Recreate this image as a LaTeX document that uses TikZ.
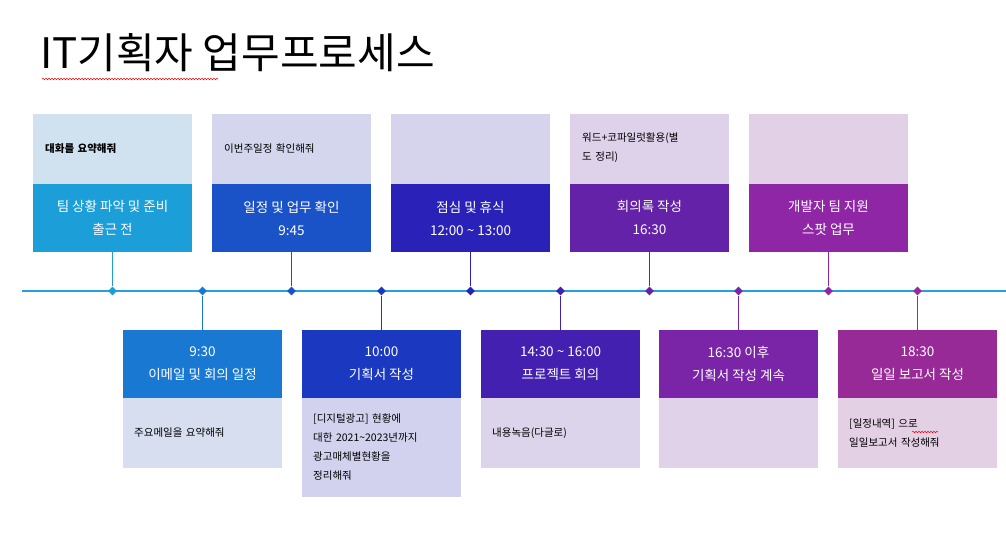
\documentclass[tikz,border=0pt]{standalone}
\usepackage{fontspec}
\setmainfont{Noto Sans CJK KR}
\usetikzlibrary{decorations.pathmorphing,shapes.geometric}
\definecolor{lineblue}{HTML}{28A0DC}
\definecolor{dA}{HTML}{1C9ED8}\definecolor{lA}{HTML}{D0E2F0}
\definecolor{dB}{HTML}{1878D2}\definecolor{lB}{HTML}{D6DEF0}
\definecolor{dC}{HTML}{1A52C8}\definecolor{lC}{HTML}{D4D6EE}
\definecolor{dD}{HTML}{1A38C0}\definecolor{lD}{HTML}{D2D2EE}
\definecolor{dE}{HTML}{2A22B8}\definecolor{lE}{HTML}{D6D4EC}
\definecolor{dF}{HTML}{4420B0}\definecolor{lF}{HTML}{DCD4EA}
\definecolor{dG}{HTML}{6422A8}\definecolor{lG}{HTML}{DED2EA}
\definecolor{dH}{HTML}{7A24A8}\definecolor{lH}{HTML}{E0D2E8}
\definecolor{dI}{HTML}{8E26A6}\definecolor{lI}{HTML}{E2D0E6}
\definecolor{dJ}{HTML}{982A98}\definecolor{lJ}{HTML}{E4D0E4}
\tikzset{
  darkbox/.style={fill=#1,text=white,minimum width=159pt,minimum height=68pt,
    inner sep=0pt,align=center,font=\fontsize{13.5}{23}\selectfont},
  lightbox/.style={fill=#1,minimum width=159pt,inner sep=0pt},
  note/.style={anchor=west,text width=140pt,align=left,inner sep=0pt,
    font=\fontsize{10.5}{19}\selectfont},
  dot/.style={diamond,fill=#1,inner sep=0pt,minimum size=9pt},
  stem/.style={draw=#1,line width=1pt},
  squiggle/.style={draw=red,line width=.5pt,decorate,
    decoration={snake,amplitude=.8pt,segment length=3pt}}
}
\begin{document}
\begin{tikzpicture}[x=1pt,y=-1pt]
  \useasboundingbox[fill=white] (0,0) rectangle (1006,535);
  \node[anchor=base west,inner sep=0pt,font=\fontsize{42}{42}\selectfont] (title) at (40,68) {IT기획자 업무프로세스};
  \draw[squiggle] (42,79) -- (218,79);

  \draw[lineblue,line width=1.5pt] (22,291) -- (1006,291);

  % top row
  \node[lightbox=lA,minimum height=70pt] (tl1) at (112.5,149) {};
  \node[lightbox=lC,minimum height=70pt] (tl2) at (291.5,149) {};
  \node[lightbox=lE,minimum height=70pt] (tl3) at (470.5,149) {};
  \node[lightbox=lG,minimum height=70pt] (tl4) at (649.5,149) {};
  \node[lightbox=lI,minimum height=70pt] (tl5) at (828.5,149) {};
  \node[darkbox=dA] (t1) at (112.5,218) {팀 상황 파악 및 준비\\출근 전};
  \node[darkbox=dC] (t2) at (291.5,218) {일정 및 업무 확인\\9:45};
  \node[darkbox=dE] (t3) at (470.5,218) {점심 및 휴식\\12:00 \textasciitilde{} 13:00};
  \node[darkbox=dG] (t4) at (649.5,218) {회의록 작성\\16:30};
  \node[darkbox=dI] (t5) at (828.5,218) {개발자 팀 지원\\스팟 업무};
  \node[note,font=\fontsize{10.5}{19}\selectfont\bfseries] at (45,149) {대화를 요약해줘};
  \node[note] at (224,149) {이번주일정 확인해줘};
  \node[note] (n4) at (582,148) {워드+코파일럿활용(별\\도 정리)};

  % bottom row
  \node[lightbox=lB,minimum height=70pt] (bl1) at (202.5,433) {};
  \node[lightbox=lD,minimum height=99pt] (bl2) at (381.5,447.5) {};
  \node[lightbox=lF,minimum height=70pt] (bl3) at (560.5,433) {};
  \node[lightbox=lH,minimum height=70pt] (bl4) at (738.5,433) {};
  \node[lightbox=lJ,minimum height=70pt] (bl5) at (917.5,433) {};
  \node[darkbox=dB] (b1) at (202.5,364) {9:30\\이메일 및 회의 일정};
  \node[darkbox=dD] (b2) at (381.5,364) {10:00\\기획서 작성};
  \node[darkbox=dF] (b3) at (560.5,364) {14:30 \textasciitilde{} 16:00\\프로젝트 회의};
  \node[darkbox=dH] (b4) at (738.5,364) {16:30 이후\\기획서 작성 계속};
  \node[darkbox=dJ] (b5) at (917.5,364) {18:30\\일일 보고서 작성};
  \node[note] at (134,433) {주요메일을 요약해줘};
  \node[note] at (313,447.5) {[디지털광고] 현황에\\대한 2021\textasciitilde2023년까지\\광고매체별현황을\\정리해줘};
  \node[note] at (492,433) {내용녹음(다글로)};
  \node[note] (n10) at (849,433) {[일정내역] 으로\\일일보고서 작성해줘};
  \draw[squiggle] (912,432) -- (938,432);

  % timeline marks
  \node[dot=dA] (d1) at (112.5,291) {};
  \node[dot=dB] (d2) at (202.5,291) {};
  \node[dot=dC] (d3) at (291.5,291) {};
  \node[dot=dD] (d4) at (381.5,291) {};
  \node[dot=dE] (d5) at (470.5,291) {};
  \node[dot=dF] (d6) at (560.5,291) {};
  \node[dot=dG] (d7) at (649.5,291) {};
  \node[dot=dH] (d8) at (738.5,291) {};
  \node[dot=dI] (d9) at (828.5,291) {};
  \node[dot=dJ] (d10) at (917.5,291) {};

  \foreach \from/\to/\c in {t1/d1/dA, t2/d3/dC, t3/d5/dE, t4/d7/dG, t5/d9/dI,
      b1/d2/dB, b2/d4/dD, b3/d6/dF, b4/d8/dH, b5/d10/dJ}
    \draw[stem=\c] (\from) -- (\to);
\end{tikzpicture}
\end{document}
